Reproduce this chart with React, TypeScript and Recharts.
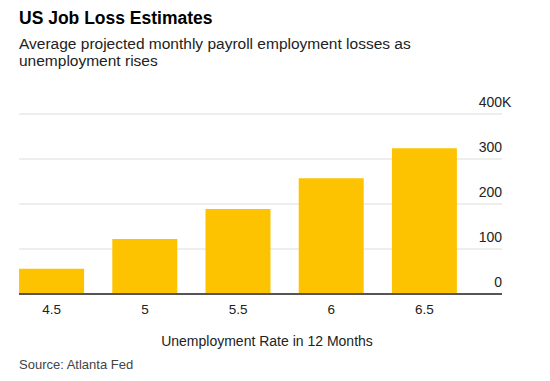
// App.tsx
import { BarChart, Bar, XAxis, YAxis, CartesianGrid } from 'recharts';

const rates = ['4.5', '5', '5.5', '6', '6.5'];
const losses = [56, 122, 189, 257, 324];
const yTicks = [0, 100, 200, 300, 400];

const FONT = '"Liberation Sans", Arial, Helvetica, sans-serif';

const data = rates.map((rate, i) => ({ rate, loss: losses[i] }));

function YTick({ y, payload }: any) {
  const v = payload.value;
  // labels sit just above their gridline, right-aligned on the plot edge
  const x = 502;
  return (
    <g>
      <text x={x} y={y - 7.5} textAnchor="end" fontSize={14} fill="#222" fontFamily={FONT}>
        {v}
      </text>
      {v === 400 && (
        <text x={x} y={y - 7.5} textAnchor="start" fontSize={14} fill="#222" fontFamily={FONT}>
          K
        </text>
      )}
    </g>
  );
}

function XTick({ x, y, payload }: any) {
  return (
    <text x={x} y={y + 12} textAnchor="middle" fontSize={13.5} fill="#222" fontFamily={FONT}>
      {payload.value}
    </text>
  );
}

export default function App() {
  return (
    <div style={{ position: 'fixed', left: 0, top: 0, width: 550, height: 381, background: '#fff' }}>
      <svg width={550} height={381} style={{ position: 'absolute', left: 0, top: 0 }}>
        <text x={19} y={23.5} fontSize={17.5} fontWeight="bold" fill="#000" fontFamily={FONT}>
          US Job Loss Estimates
        </text>
        <text x={19} y={48.5} fontSize={15.5} fill="#222" fontFamily={FONT}>
          Average projected monthly payroll employment losses as
        </text>
        <text x={19} y={65.5} fontSize={15.5} fill="#222" fontFamily={FONT}>
          unemployment rises
        </text>
        <text x={267} y={346} textAnchor="middle" fontSize={14} fill="#222" fontFamily={FONT}>
          Unemployment Rate in 12 Months
        </text>
        <text x={19} y={369} fontSize={13} fill="#444" fontFamily={FONT}>
          Source: Atlanta Fed
        </text>
      </svg>
      <div style={{ position: 'absolute', left: 0, top: 0 }}>
        <BarChart width={550} height={381} data={data} margin={{ top: 114, right: 38, bottom: 57, left: 19 }}>
          <CartesianGrid vertical={false} stroke="#ddd" strokeWidth={1} />
          <XAxis
            dataKey="rate"
            height={30}
            padding={{ left: -13.9, right: 30.9 }}
            tickLine={false}
            axisLine={{ stroke: '#555', strokeWidth: 2 }}
            tick={<XTick />}
            interval={0}
          />
          <YAxis
            orientation="right"
            width={10}
            domain={[0, 400]}
            ticks={yTicks}
            axisLine={false}
            tickLine={false}
            tick={<YTick />}
          />
          <Bar dataKey="loss" fill="#fdc300" barSize={65} isAnimationActive={false} />
        </BarChart>
      </div>
    </div>
  );
}
